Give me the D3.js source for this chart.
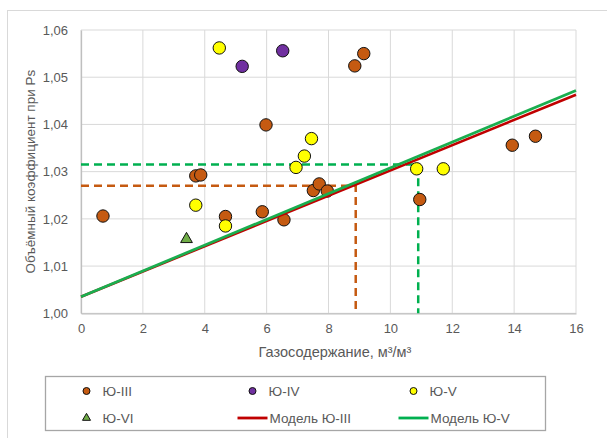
<!DOCTYPE html>
<html>
<head>
<meta charset="utf-8">
<script src="https://cdn.jsdelivr.net/npm/d3@7"></script>
<style>
  body { margin: 0; background: #fff; }
  svg { font-family: "Liberation Sans", Arial, sans-serif; }
</style>
</head>
<body>
<svg id="chart" width="607" height="438"></svg>
<script>
// ---- data ----
const xTicks = [0, 2, 4, 6, 8, 10, 12, 14, 16]
const yTicks = [1.00, 1.01, 1.02, 1.03, 1.04, 1.05, 1.06]

const juIII = [
    [0.71, 1.0206], [3.71, 1.0291], [3.87, 1.0293], [4.67, 1.0205],
    [5.86, 1.0215], [5.98, 1.0399], [6.56, 1.0198], [7.51, 1.0260],
    [7.70, 1.0274], [7.96, 1.0259], [8.85, 1.0524], [9.14, 1.0550],
    [10.95, 1.0241], [13.94, 1.0356], [14.69, 1.0375]
]
const juIV = [[5.21, 1.0523], [6.52, 1.0556]]
const juV = [
    [4.47, 1.0562], [3.71, 1.0229], [4.67, 1.0185], [6.95, 1.0309],
    [7.22, 1.0333], [7.45, 1.0370], [10.85, 1.0306], [11.71, 1.0306]
]
const juVI = [[3.41, 1.0157]]

const modelX = [0, 16]
const modelIII = [1.0035, 1.0463]
const modelV = [1.0035, 1.0472]

// dashed guides: [x, y] of the reading point
const guideIII = [8.88, 1.0270]
const guideV = [10.9, 1.0315]

const legendItems = [
    { label: 'Ю-III', kind: 'circle', color: '#C55A11' },
    { label: 'Ю-IV', kind: 'circle', color: '#7030A0' },
    { label: 'Ю-V', kind: 'circle', color: '#FFFF00' },
    { label: 'Ю-VI', kind: 'triangle', color: '#70AD47' },
    { label: 'Модель Ю-III', kind: 'line', color: '#C00000' },
    { label: 'Модель Ю-V', kind: 'line', color: '#00B050' }
]

const svg = d3.select('#chart')
const plot = { left: 81, right: 576, top: 30, bottom: 313.3 }

const x = d3.scaleLinear().domain([0, 16]).range([plot.left, plot.right])
const y = d3.scaleLinear().domain([1.0, 1.06]).range([plot.bottom, plot.top])

// outer chart border (runs off the picture to the right and bottom)
svg.append('rect')
    .attr('x', 7.5).attr('y', 10.5)
    .attr('width', 640).attr('height', 460)
    .attr('fill', 'none').attr('stroke', '#D9D9D9').attr('stroke-width', 1)

// grid
svg.append('g').selectAll('line').data(xTicks).join('line')
    .attr('x1', d => x(d)).attr('x2', d => x(d))
    .attr('y1', plot.top).attr('y2', plot.bottom)
    .attr('stroke', '#D9D9D9').attr('stroke-width', 1)
svg.append('g').selectAll('line').data(yTicks).join('line')
    .attr('x1', plot.left).attr('x2', plot.right)
    .attr('y1', d => y(d)).attr('y2', d => y(d))
    .attr('stroke', '#D9D9D9').attr('stroke-width', 1)

// axes
const xAxis = svg.append('g')
    .attr('transform', `translate(0,${plot.bottom})`)
    .call(d3.axisBottom(x).tickValues(xTicks).tickSize(0).tickPadding(10))
const yAxis = svg.append('g')
    .attr('transform', `translate(${plot.left},0)`)
    .call(d3.axisLeft(y).tickValues(yTicks).tickSize(0).tickPadding(13)
        .tickFormat(d => d3.format('.2f')(d).replace('.', ',')))
for (const ax of [xAxis, yAxis]) {
    ax.select('.domain').attr('stroke', '#BFBFBF').attr('stroke-width', 1.3)
    ax.selectAll('text').attr('fill', '#595959').attr('font-size', 13)
        .attr('font-family', '"Liberation Sans", Arial, sans-serif')
}

// axis titles
svg.append('text')
    .attr('x', 335).attr('y', 357)
    .attr('text-anchor', 'middle').attr('font-size', 14.5).attr('fill', '#595959')
    .text('Газосодержание, м³/м³')
svg.append('text')
    .attr('transform', `translate(35,${(plot.top + plot.bottom) / 2}) rotate(-90)`)
    .attr('text-anchor', 'middle').attr('font-size', 13.5).attr('fill', '#595959')
    .text('Объёмный коэффициент при Ps')

// dashed reading guides
function guide(g, color) {
    svg.append('path')
        .attr('d', d3.line()([[x(0), y(g[1])], [x(g[0]), y(g[1])], [x(g[0]), y(1.0)]]))
        .attr('fill', 'none').attr('stroke', color).attr('stroke-width', 2.5)
        .attr('stroke-dasharray', '8,5')
}
guide(guideIII, '#C55A11')
guide(guideV, '#00B050')

// points
function dots(data, color) {
    svg.append('g').selectAll('circle').data(data).join('circle')
        .attr('cx', d => x(d[0])).attr('cy', d => y(d[1])).attr('r', 6.2)
        .attr('fill', color).attr('stroke', '#111').attr('stroke-width', 1)
}
dots(juIII, '#C55A11')
dots(juIV, '#7030A0')
dots(juV, '#FFFF00')
svg.append('g').selectAll('path').data(juVI).join('path')
    .attr('transform', d => `translate(${x(d[0])},${y(d[1])})`)
    .attr('d', d3.symbol(d3.symbolTriangle, 60))
    .attr('fill', '#70AD47').attr('stroke', '#111').attr('stroke-width', 1)

// model lines
const modelLine = d3.line().x(d => x(d[0])).y(d => y(d[1]))
svg.append('path').attr('d', modelLine(d3.zip(modelX, modelIII)))
    .attr('fill', 'none').attr('stroke', '#C00000').attr('stroke-width', 2.6)
svg.append('path').attr('d', modelLine(d3.zip(modelX, modelV)))
    .attr('fill', 'none').attr('stroke', '#1AAE4F').attr('stroke-width', 2.8)

// legend
const lg = svg.append('g')
lg.append('rect')
    .attr('x', 45.5).attr('y', 376.5).attr('width', 500).attr('height', 54)
    .attr('fill', '#fff').attr('stroke', '#A6A6A6').attr('stroke-width', 1.3)
const colX = [86.5, 252.5, 413.5]
const rowY = [391, 418]
legendItems.forEach((item, i) => {
    const cx = colX[i % 3], cy = rowY[Math.floor(i / 3)]
    const g = lg.append('g')
    let tx = cx + 16
    if (item.kind === 'circle') {
        g.append('circle').attr('cx', cx).attr('cy', cy).attr('r', 3.5)
            .attr('fill', item.color).attr('stroke', '#111').attr('stroke-width', 1)
    } else if (item.kind === 'triangle') {
        g.append('path').attr('transform', `translate(${cx},${cy})`)
            .attr('d', d3.symbol(d3.symbolTriangle, 28))
            .attr('fill', item.color).attr('stroke', '#111').attr('stroke-width', 1)
    } else {
        g.append('line').attr('x1', cx - 15).attr('x2', cx + 15)
            .attr('y1', cy).attr('y2', cy)
            .attr('stroke', item.color).attr('stroke-width', 2.8)
        tx = cx + 17
    }
    g.append('text').attr('x', tx).attr('y', cy).attr('dy', '0.35em')
        .attr('font-size', 13.5).attr('fill', '#595959').text(item.label)
})
</script>
</body>
</html>
